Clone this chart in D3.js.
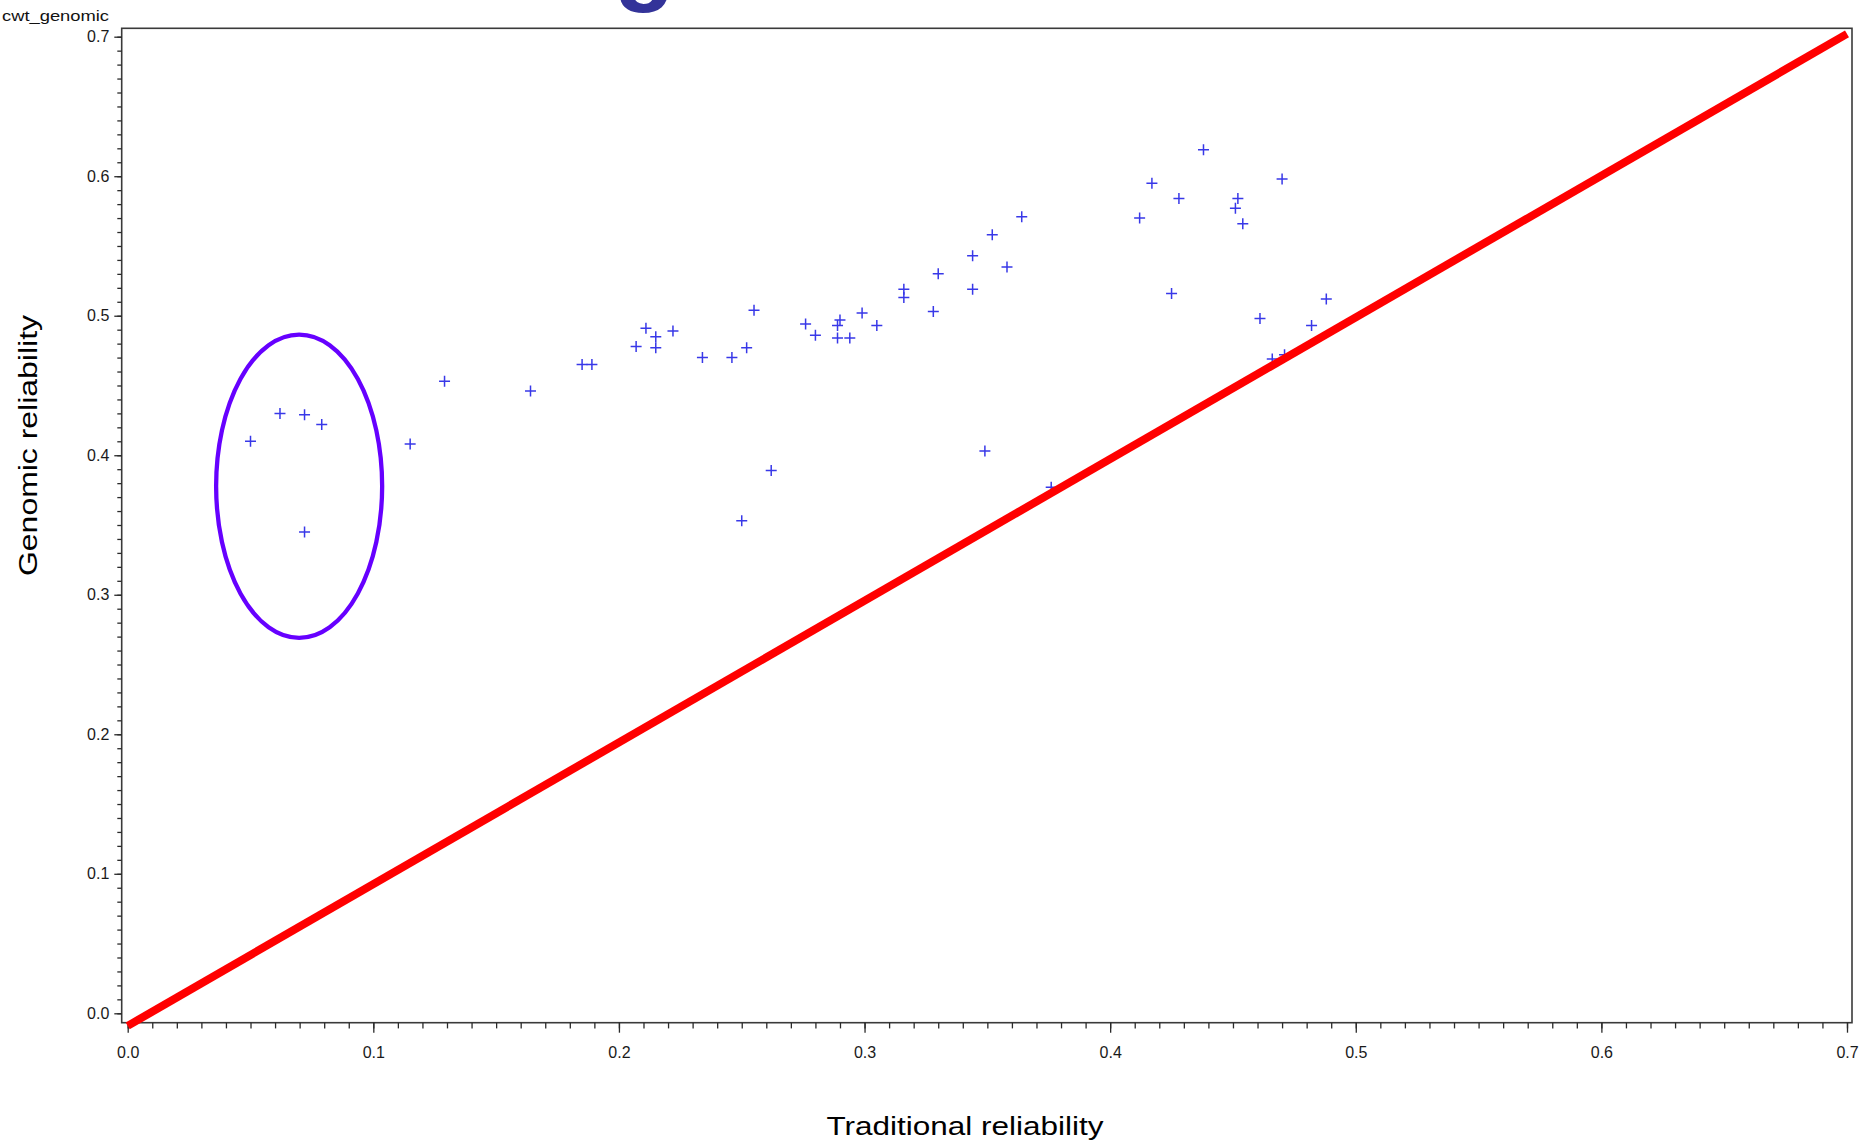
<!DOCTYPE html>
<html>
<head>
<meta charset="utf-8">
<script src="https://cdn.jsdelivr.net/npm/d3@7"></script>
<style>
    body { margin: 0; background: #fff; }
    text { font-family: "Liberation Sans", Arial, sans-serif; }
</style>
</head>
<body>
<div class="myPlot"></div>
<script>
// traditional (x) and genomic (y) reliability, one entry per animal
const tradRel = [0.050, 0.062, 0.072, 0.079, 0.072, 0.115, 0.129, 0.164, 0.185, 0.189,
    0.211, 0.215, 0.207, 0.215, 0.222, 0.234, 0.246, 0.252, 0.255, 0.276,
    0.280, 0.289, 0.294, 0.290, 0.289, 0.299, 0.305, 0.316, 0.316, 0.330,
    0.328, 0.344, 0.358, 0.344, 0.364, 0.352, 0.349, 0.262, 0.250, 0.376,
    0.438, 0.417, 0.428, 0.412, 0.470, 0.452, 0.451, 0.454, 0.425, 0.488,
    0.461, 0.482, 0.466, 0.471]
const genRel = [0.410, 0.430, 0.429, 0.422, 0.345, 0.408, 0.453, 0.446, 0.465, 0.465,
    0.491, 0.485, 0.478, 0.477, 0.489, 0.470, 0.470, 0.477, 0.504, 0.494,
    0.486, 0.484, 0.484, 0.497, 0.493, 0.502, 0.493, 0.519, 0.513, 0.530,
    0.503, 0.543, 0.535, 0.519, 0.571, 0.558, 0.403, 0.389, 0.353, 0.377,
    0.619, 0.595, 0.584, 0.570, 0.598, 0.584, 0.577, 0.566, 0.516, 0.512,
    0.498, 0.493, 0.469, 0.472]

const majorTicks = [0, 0.1, 0.2, 0.3, 0.4, 0.5, 0.6, 0.7]
const minorTicks = d3.range(0, 71).map((i) => i / 100)

// red reference line drawn on the slide, endpoints in data units
const refLine = [[0, -0.009], [0.7, 0.702]]
// purple ring around the low traditional reliability group
const ringCenter = [0.0698, 0.3778]
const ringRadius = [0.0338, 0.1087]

const width = 1862
const height = 1146
const frame = { left: 121.7, right: 1852, top: 28.3, bottom: 1022.7 }

const svg = d3
    .select('.myPlot')
    .append('svg')
    .attr('width', width)
    .attr('height', height)
    .style('display', 'block')
    .style('background-color', '#fff')

const xScale = d3.scaleLinear().domain([0, 0.7]).range([127.7, 1847])
const yScale = d3.scaleLinear().domain([0, 0.7]).range([1013.3, 36.7])

// bit of the slide title that is cut off at the top
svg.append('text')
    .attr('x', 614)
    .attr('y', -8)
    .style('font-size', '100px')
    .style('font-weight', 'bold')
    .attr('fill', '#333399')
    .text('g')

svg.append('text')
    .attr('x', 2)
    .attr('y', 20.5)
    .attr('textLength', 107)
    .attr('lengthAdjust', 'spacingAndGlyphs')
    .style('font-size', '14.5px')
    .attr('fill', '#111')
    .text('cwt_genomic')

svg.append('rect')
    .attr('x', frame.left)
    .attr('y', frame.top)
    .attr('width', frame.right - frame.left)
    .attr('height', frame.bottom - frame.top)
    .attr('fill', 'none')
    .attr('stroke', '#3a3a3a')
    .attr('stroke-width', 1.6)

/**
 * axes: major ticks with labels, minor ticks every 0.01
 */
const xMajor = d3.axisBottom(xScale).tickValues(majorTicks).tickSize(10).tickPadding(14.2).tickFormat(d3.format('.1f'))
const xMinor = d3.axisBottom(xScale).tickValues(minorTicks).tickSize(5.7).tickFormat('')
const yMajor = d3.axisLeft(yScale).tickValues(majorTicks).tickSize(7.4).tickPadding(5).tickFormat(d3.format('.1f'))
const yMinor = d3.axisLeft(yScale).tickValues(minorTicks).tickSize(4.4).tickFormat('')

svg.append('g').attr('class', 'axis').attr('transform', `translate(0, ${frame.bottom})`).call(xMinor)
svg.append('g').attr('class', 'axis').attr('transform', `translate(0, ${frame.bottom})`).call(xMajor)
svg.append('g').attr('class', 'axis').attr('transform', `translate(${frame.left}, 0)`).call(yMinor)
svg.append('g').attr('class', 'axis').attr('transform', `translate(${frame.left}, 0)`).call(yMajor)

d3.selectAll('.axis .domain').remove()
d3.selectAll('.axis line').attr('stroke', '#2a2a2a').attr('stroke-width', 1.3)
d3.selectAll('.axis text')
    .style('font-size', '16px')
    .style('font-family', '"Liberation Sans", Arial, sans-serif')
    .attr('fill', '#1a1a1a')

svg.append('text')
    .attr('x', 965)
    .attr('y', 1135)
    .attr('text-anchor', 'middle')
    .attr('textLength', 277)
    .attr('lengthAdjust', 'spacingAndGlyphs')
    .style('font-size', '26px')
    .attr('fill', '#000')
    .text('Traditional reliability')

svg.append('text')
    .attr('transform', 'translate(37, 445.5) rotate(-90)')
    .attr('text-anchor', 'middle')
    .attr('textLength', 261)
    .attr('lengthAdjust', 'spacingAndGlyphs')
    .style('font-size', '26px')
    .attr('fill', '#000')
    .text('Genomic reliability')

/**
 * points as plus markers
 */
const points = tradRel.map((v, i) => [v, genRel[i]])
svg.append('g')
    .selectAll('path')
    .data(points)
    .enter()
    .append('path')
    .attr('d', 'M-5.5,0H5.5M0,-5.5V5.5')
    .attr('transform', (d) => `translate(${xScale(d[0])}, ${yScale(d[1])})`)
    .attr('fill', 'none')
    .attr('stroke', '#3838e8')
    .attr('stroke-width', 1.5)

const line = d3.line()
    .x((d) => xScale(d[0]))
    .y((d) => yScale(d[1]))

svg.append('path')
    .attr('d', line(refLine))
    .attr('fill', 'none')
    .attr('stroke', '#ff0000')
    .attr('stroke-width', 8)

svg.append('ellipse')
    .attr('cx', xScale(ringCenter[0]))
    .attr('cy', yScale(ringCenter[1]))
    .attr('rx', xScale(ringRadius[0]) - xScale(0))
    .attr('ry', yScale(0) - yScale(ringRadius[1]))
    .attr('fill', 'none')
    .attr('stroke', '#6600ff')
    .attr('stroke-width', 4.3)
</script>
</body>
</html>
